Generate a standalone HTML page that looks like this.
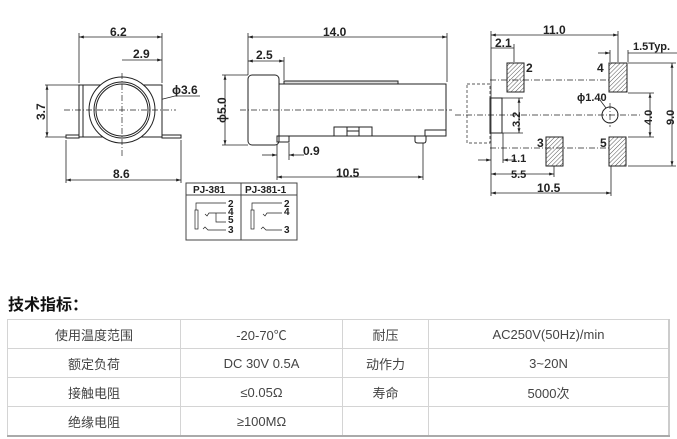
<!DOCTYPE html>
<html><head><meta charset="utf-8"><style>
body{margin:0;width:677px;height:439px;background:#fff;overflow:hidden;position:relative;font-family:"Liberation Sans","Noto Sans CJK SC",sans-serif}
svg{position:absolute;left:0;top:0}
.h{position:absolute;left:8px;top:291px;font-size:16px;font-weight:bold;color:#111;font-family:"Liberation Sans","Noto Sans CJK SC",sans-serif}
table{position:absolute;left:7px;top:319px;border-collapse:collapse;font-size:13px;color:#444}
td{border:1px solid #d4d4d4;height:28px;padding:0;text-align:center}
table{border-bottom:2px solid #aaa;border-right:2px solid #ccc}
</style></head><body>
<svg width="677" height="290" viewBox="0 0 677 290" font-family="Liberation Sans, sans-serif" font-weight="bold" fill="none" stroke="#222" stroke-width="1">
<defs><marker id="a" viewBox="0 0 10 10" refX="10" refY="5" markerWidth="6" markerHeight="6" orient="auto-start-reverse"><path d="M0 2L10 5L0 8z" fill="#222" stroke="none"/></marker></defs>
<g font-size="12" fill="#222" stroke="none">
<text x="110" y="36">6.2</text><text x="133" y="58">2.9</text><text x="172" y="94">ϕ3.6</text><text x="113" y="178">8.6</text>
<text transform="translate(45,120) rotate(-90)">3.7</text>
<text x="323" y="36">14.0</text><text x="256" y="59">2.5</text><text x="303" y="155">0.9</text><text x="336" y="177">10.5</text>
<text transform="translate(226,123) rotate(-90)">ϕ5.0</text>
<text x="543" y="34">11.0</text><text x="495" y="47">2.1</text><text x="633" y="50" font-size="11">1.5Typ.</text>
<text x="577" y="101" font-size="11">ϕ1.40</text>
<text x="526" y="72">2</text><text x="597" y="72">4</text><text x="537" y="147">3</text><text x="600" y="147">5</text>
<text x="511" y="162" font-size="11">1.1</text><text x="511" y="178" font-size="11">5.5</text><text x="537" y="192">10.5</text>
<text transform="translate(520,127) rotate(-90)" font-size="11">3.2</text>
<text transform="translate(652,125) rotate(-90)" font-size="11">4.0</text>
<text transform="translate(674,125) rotate(-90)" font-size="11">9.0</text>
</g>
<!-- left view -->
<g stroke-width="0.8">
<line x1="79" y1="33" x2="79" y2="83"/><line x1="162" y1="33" x2="162" y2="83"/>
<line x1="79" y1="37" x2="162" y2="37" marker-start="url(#a)" marker-end="url(#a)"/>
<line x1="122" y1="60" x2="162" y2="60" marker-end="url(#a)"/>
<line x1="45" y1="85" x2="79" y2="85"/><line x1="45" y1="137" x2="66" y2="137"/>
<line x1="47" y1="85" x2="47" y2="137" marker-start="url(#a)" marker-end="url(#a)"/>
<line x1="66" y1="140" x2="66" y2="183"/><line x1="181" y1="140" x2="181" y2="183"/>
<line x1="66" y1="180" x2="181" y2="180" marker-start="url(#a)" marker-end="url(#a)"/>
<line x1="147" y1="103" x2="175" y2="96"/><line x1="175" y1="96" x2="200" y2="96"/>
</g>
<rect x="79" y="85" width="83" height="52" fill="#fff"/><line x1="83" y1="85" x2="83" y2="137"/>
<rect x="66" y="135" width="13" height="3"/><rect x="162" y="135" width="19" height="3"/>
<circle cx="122" cy="110" r="33" fill="#fff"/><circle cx="122" cy="110" r="28"/><circle cx="122" cy="110" r="26"/>
<g stroke-dasharray="6,2,1,2" stroke-width="0.7"><line x1="64" y1="110" x2="176" y2="110"/><line x1="122" y1="73" x2="122" y2="157"/></g>
<!-- middle view -->
<g stroke-width="0.8">
<line x1="248" y1="33" x2="248" y2="75"/><line x1="447" y1="33" x2="447" y2="82"/>
<line x1="248" y1="37" x2="447" y2="37" marker-start="url(#a)" marker-end="url(#a)"/>
<line x1="284" y1="57" x2="284" y2="80"/>
<line x1="248" y1="61" x2="284" y2="61" marker-start="url(#a)" marker-end="url(#a)"/>
<line x1="225" y1="75" x2="225" y2="145" marker-start="url(#a)" marker-end="url(#a)"/>
<line x1="222" y1="75" x2="248" y2="75"/><line x1="222" y1="145" x2="248" y2="145"/>
<line x1="277" y1="143" x2="277" y2="180"/><line x1="289" y1="143" x2="289" y2="160"/>
<line x1="262" y1="155" x2="277" y2="155" marker-end="url(#a)"/><line x1="304" y1="155" x2="289" y2="155" marker-end="url(#a)"/>
<line x1="423" y1="143" x2="423" y2="180"/>
<line x1="277" y1="177" x2="423" y2="177" marker-start="url(#a)" marker-end="url(#a)"/>
</g>
<rect x="284" y="81" width="114" height="3" fill="#ddd"/>
<rect x="277" y="84" width="169" height="52" fill="#fff"/>
<rect x="248" y="75" width="31" height="70" rx="4" fill="#fff"/>
<rect x="277" y="136" width="12" height="6"/>
<rect x="334" y="127" width="13" height="9"/><rect x="347" y="127" width="12" height="9"/><rect x="359" y="127" width="13" height="9"/><line x1="347" y1="131" x2="359" y2="131"/>
<rect x="425" y="130" width="21" height="6"/><path d="M415 136v5q0 2 3 2h6q2 0 2-3v-4"/>
<line x1="240" y1="110" x2="452" y2="110" stroke-dasharray="6,2,1,2" stroke-width="0.7"/>
<!-- PJ boxes -->
<rect x="186" y="183" width="111" height="57" stroke="#444"/><line x1="241" y1="183" x2="241" y2="240" stroke="#444"/><line x1="186" y1="195" x2="297" y2="195" stroke="#444"/>
<g font-size="10" fill="#222" stroke="none"><text x="193" y="193">PJ-381</text><text x="245" y="193">PJ-381-1</text>
<text x="228" y="207">2</text><text x="228" y="215">4</text><text x="228" y="223">5</text><text x="228" y="233">3</text>
<text x="284" y="207">2</text><text x="284" y="215">4</text><text x="284" y="233">3</text></g>
<g stroke-width="0.7"><rect x="195" y="210" width="3" height="19"/><path d="M196 210v-7h30M205 214l2 2 2-3h17M216 213v9h10M203 229l2-2 3 3h18"/>
<rect x="251" y="210" width="3" height="19"/><path d="M252 210v-7h30M263 214l2 2 2-3h15M261 229l2-2 3 3h16"/></g>
<!-- right view -->
<g stroke-width="0.8">
<line x1="491" y1="31" x2="491" y2="196"/><line x1="618" y1="31" x2="618" y2="62"/>
<line x1="491" y1="35" x2="618" y2="35" marker-start="url(#a)" marker-end="url(#a)"/>
<line x1="514" y1="44" x2="514" y2="62"/><line x1="491" y1="48" x2="514" y2="48"/>
<line x1="610" y1="50" x2="610" y2="62"/><line x1="628" y1="50" x2="628" y2="62"/>
<line x1="598" y1="53" x2="610" y2="53" marker-end="url(#a)"/><line x1="628" y1="53" x2="677" y2="53"/>
<line x1="628" y1="63" x2="676" y2="63"/><line x1="628" y1="166" x2="676" y2="166"/>
<line x1="672" y1="63" x2="672" y2="166" marker-start="url(#a)" marker-end="url(#a)"/>
<line x1="628" y1="93" x2="654" y2="93"/><line x1="628" y1="137" x2="654" y2="137"/>
<line x1="650" y1="93" x2="650" y2="137" marker-start="url(#a)" marker-end="url(#a)"/>
<line x1="502" y1="98" x2="523" y2="98"/><line x1="502" y1="133" x2="523" y2="133"/>
<line x1="519" y1="98" x2="519" y2="133" marker-start="url(#a)" marker-end="url(#a)"/>
<line x1="503" y1="133" x2="503" y2="163"/>
<line x1="478" y1="160" x2="491" y2="160" marker-end="url(#a)"/><line x1="516" y1="160" x2="503" y2="160" marker-end="url(#a)"/>
<line x1="554" y1="166" x2="554" y2="177"/>
<line x1="491" y1="174" x2="554" y2="174" marker-start="url(#a)" marker-end="url(#a)"/>
<line x1="611" y1="166" x2="611" y2="196"/>
<line x1="491" y1="193" x2="611" y2="193" marker-start="url(#a)" marker-end="url(#a)"/>
<line x1="600" y1="100" x2="606" y2="108"/>
</g>
<defs><pattern id="p" width="3" height="3" patternUnits="userSpaceOnUse" patternTransform="rotate(45)"><line x1="0" y1="0" x2="0" y2="3" stroke="#555" stroke-width="1"/></pattern></defs>
<g fill="url(#p)"><rect x="507" y="63" width="17" height="29"/><rect x="609" y="63" width="18" height="29"/><rect x="546" y="137" width="17" height="29"/><rect x="609" y="137" width="17" height="29"/></g>
<rect x="467" y="84" width="23" height="59" stroke-dasharray="3,2" stroke-width="0.7"/>
<rect x="490" y="98" width="12" height="35"/>
<circle cx="610" cy="115" r="8"/>
<g stroke-dasharray="6,2,1,2" stroke-width="0.7"><line x1="455" y1="115" x2="640" y2="115"/><line x1="490" y1="80" x2="609" y2="80"/><line x1="490" y1="148" x2="609" y2="148"/><line x1="610" y1="103" x2="610" y2="127"/></g>
</svg>
<div class="h">技术指标：</div>
<table>
<tr><td style="width:172px">使用温度范围</td><td style="width:161px">-20-70℃</td><td style="width:85px">耐压</td><td style="width:239px">AC250V(50Hz)/min</td></tr>
<tr><td>额定负荷</td><td>DC 30V 0.5A</td><td>动作力</td><td>3~20N</td></tr>
<tr><td>接触电阻</td><td>≤0.05Ω</td><td>寿命</td><td>5000次</td></tr>
<tr><td>绝缘电阻</td><td>≥100MΩ</td><td></td><td></td></tr>
</table>
</body></html>
